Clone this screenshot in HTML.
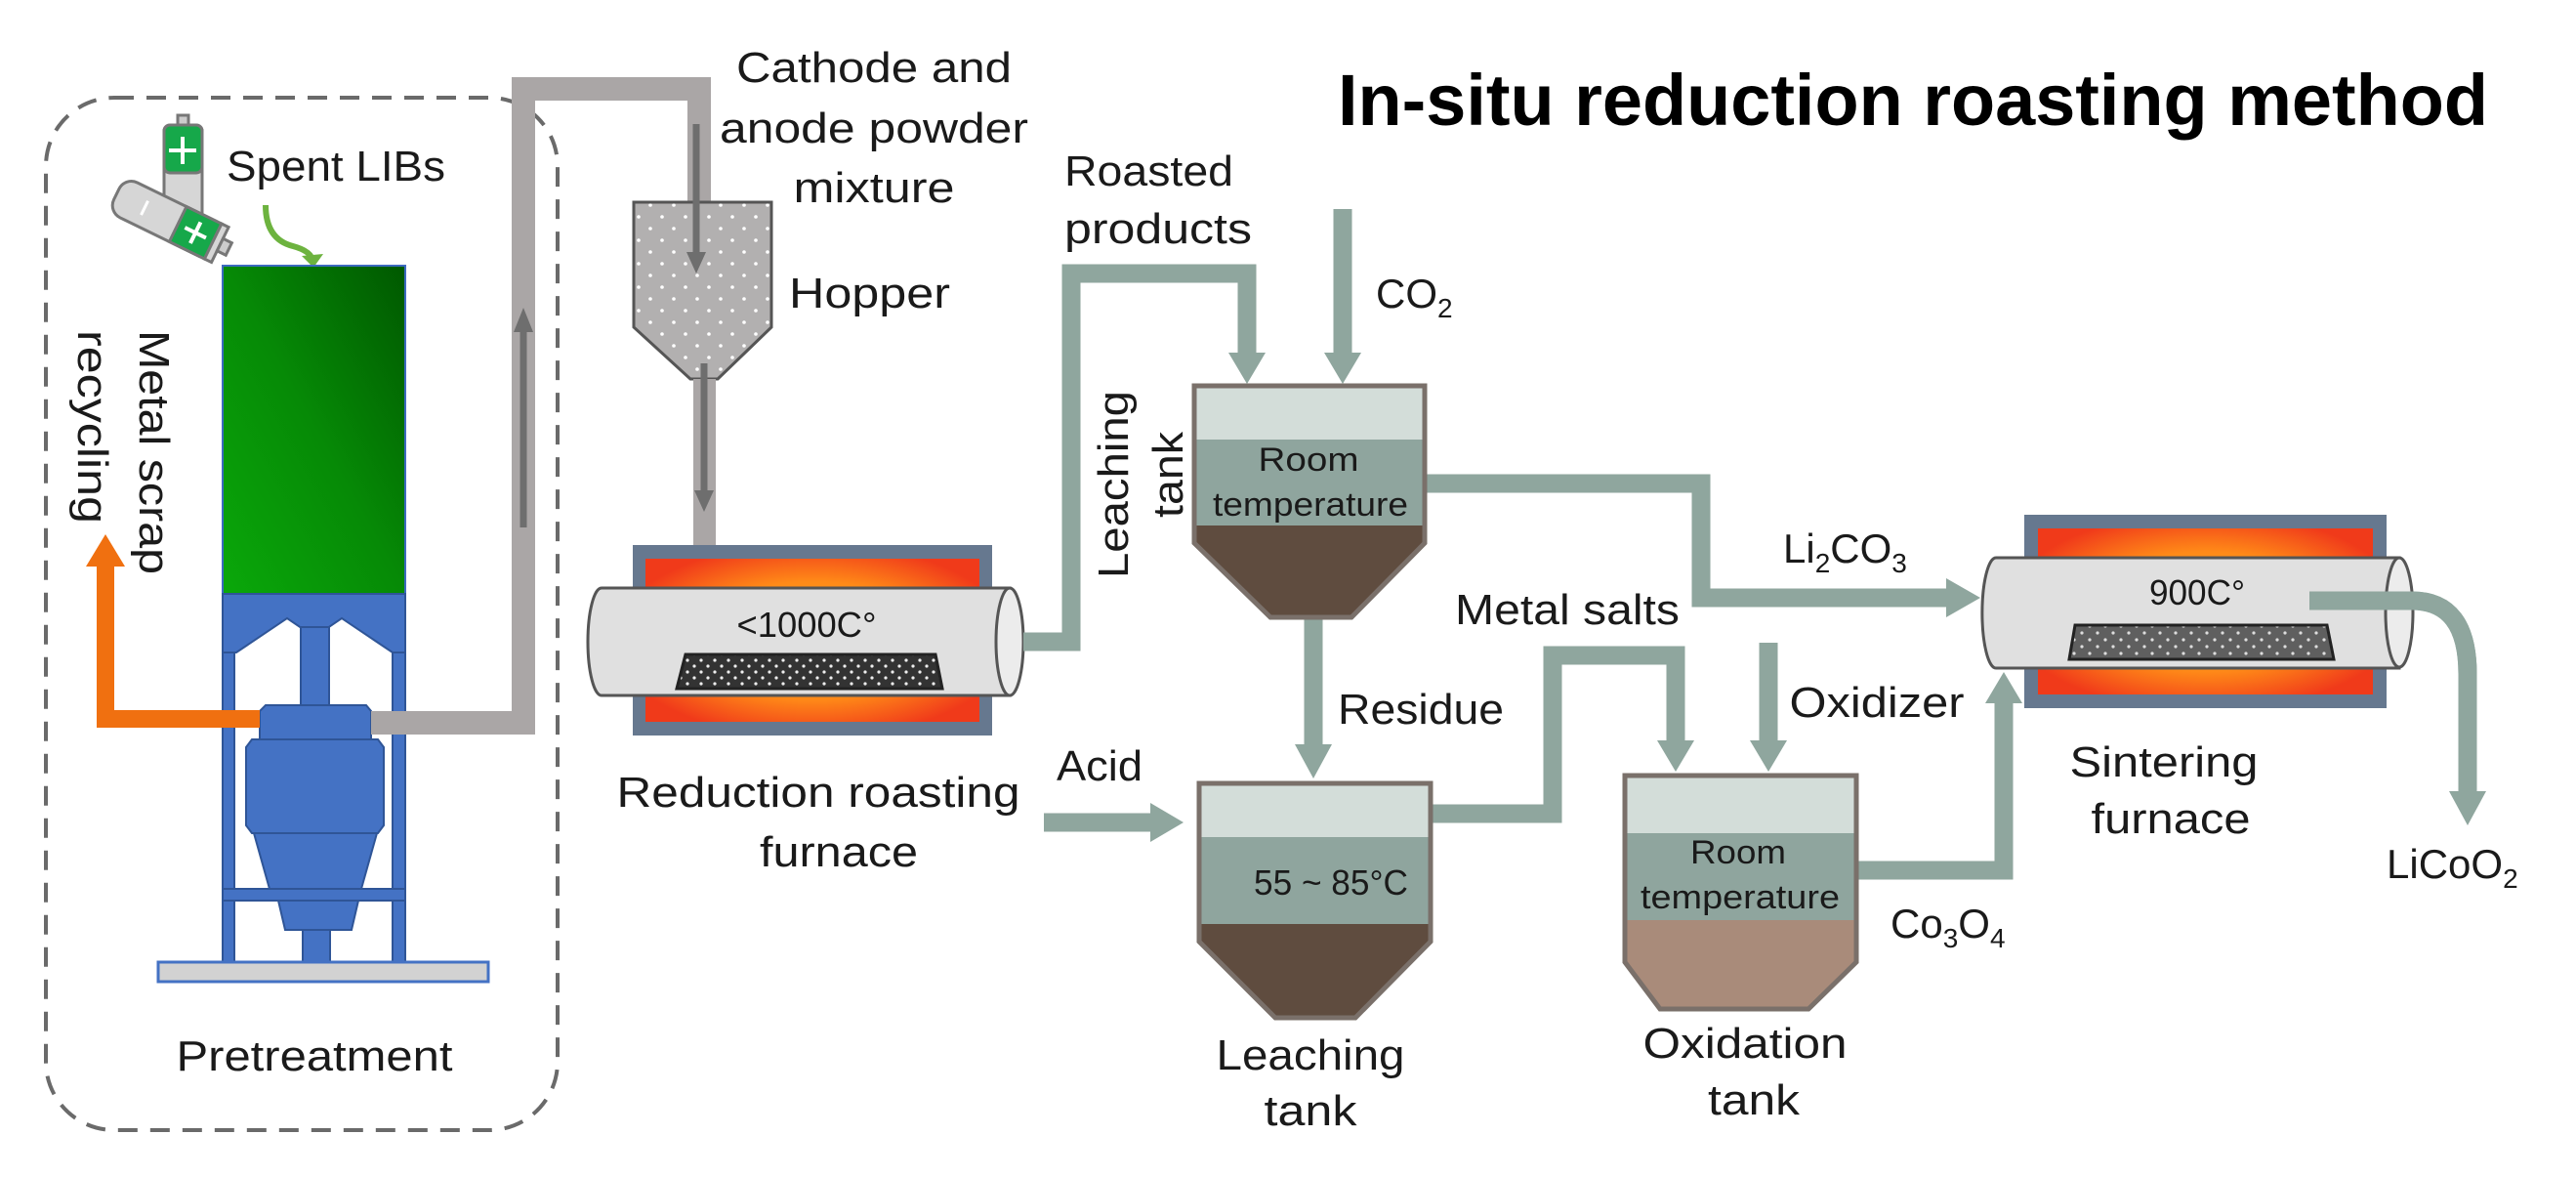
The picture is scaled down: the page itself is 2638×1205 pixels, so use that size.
<!DOCTYPE html>
<html><head><meta charset="utf-8"><style>
html,body{margin:0;padding:0;background:#fff;}
svg{display:block;}
text{font-family:"Liberation Sans",sans-serif;fill:#1a1a1a;}
</style></head><body>
<svg width="2638" height="1205" viewBox="0 0 2638 1205" xmlns="http://www.w3.org/2000/svg">
<defs>
<linearGradient id="grn" x1="0" y1="1" x2="1" y2="0">
<stop offset="0" stop-color="#0aa80a"/><stop offset="0.5" stop-color="#068a06"/><stop offset="1" stop-color="#005800"/>
</linearGradient>
<radialGradient id="fire" cx="0.5" cy="0.5" r="0.6">
<stop offset="0" stop-color="#ffb020"/><stop offset="0.6" stop-color="#ff8a18"/><stop offset="1" stop-color="#f03a1a"/>
</radialGradient>
<pattern id="dotsD" width="14" height="12" patternUnits="userSpaceOnUse">
<rect width="14" height="12" fill="#333"/><circle cx="4" cy="4" r="1.6" fill="#eee"/><circle cx="11" cy="10" r="1.6" fill="#eee"/>
</pattern>
<pattern id="dotsG" width="16" height="14" patternUnits="userSpaceOnUse">
<rect width="16" height="14" fill="#5f5f5f"/><circle cx="4" cy="4" r="1.6" fill="#ddd"/><circle cx="12" cy="11" r="1.6" fill="#ddd"/>
</pattern>
<pattern id="dotsH" width="24" height="24" patternUnits="userSpaceOnUse">
<rect width="24" height="24" fill="#b2b0b0"/><circle cx="6" cy="6" r="1.8" fill="#fff"/><circle cx="18" cy="18" r="1.8" fill="#fff"/>
</pattern>
</defs>

<!-- Title -->
<text x="1370" y="128" font-size="74" font-weight="bold" textLength="1178" lengthAdjust="spacingAndGlyphs" style="fill:#000">In-situ reduction roasting method</text>

<!-- dashed pretreatment box -->
<rect x="47" y="100" width="524" height="1057" rx="70" fill="none" stroke="#6a6a6a" stroke-width="4" stroke-dasharray="20 13"/>

<!-- batteries -->
<g stroke="#777" stroke-width="3">
<rect x="182" y="118" width="11" height="12" fill="#ccc"/>
<rect x="168" y="128" width="39" height="99" rx="6" fill="#d6d6d6"/>
<rect x="168" y="128" width="39" height="49" rx="6" fill="#16a84a"/>
</g>
<path d="M187 140 v28 M173 154 h28" stroke="#fff" stroke-width="4"/>
<g transform="translate(175,226) rotate(26)">
<rect x="-62" y="-20" width="118" height="40" rx="14" fill="#d6d6d6" stroke="#777" stroke-width="3"/>
<rect x="8" y="-20" width="40" height="40" fill="#16a84a" stroke="#777" stroke-width="3"/>
<rect x="48" y="-20" width="8" height="40" fill="#d6d6d6" stroke="#777" stroke-width="3"/>
<rect x="56" y="-7" width="10" height="14" fill="#ccc" stroke="#777" stroke-width="3"/>
<path d="M28 -12 v24 M16 0 h24" stroke="#fff" stroke-width="4"/>
<path d="M-30 -8 v16" stroke="#fff" stroke-width="3"/>
</g>
<text x="232" y="185" font-size="44" textLength="224" lengthAdjust="spacingAndGlyphs">Spent LIBs</text>
<path d="M272 210 Q272 245 300 252 Q318 257 320 266" fill="none" stroke="#6db33f" stroke-width="6"/>
<polygon points="309,262 331,260 321,274" fill="#6db33f"/>

<!-- green block -->
<rect x="228" y="272" width="187" height="336" fill="url(#grn)" stroke="#3d6ac0" stroke-width="2"/>

<!-- blue machine -->
<g fill="#4472c4" stroke="#2f5597" stroke-width="2">
<path d="M228 608 H415 V668 H402 L350 633 L322 652 L294 633 L242 668 H228 Z"/>
<rect x="228" y="668" width="12" height="318"/>
<rect x="402" y="668" width="13" height="318"/>
<rect x="308" y="642" width="29" height="82"/>
<path d="M272 722 H375 L380 728 V757 H266 V728 Z"/>
<path d="M258 757 H387 L393 765 V845 L387 853 H258 L252 845 V765 Z"/>
<path d="M260 853 H386 L370 910 H276 Z"/>
<rect x="228" y="910" width="187" height="12"/>
<path d="M285 922 H367 L360 952 H292 Z"/>
<rect x="310" y="952" width="28" height="34"/>
</g>
<rect x="162" y="985" width="338" height="20" fill="#d2d2d2" stroke="#4472c4" stroke-width="3"/>
<text x="322" y="1096" font-size="44" text-anchor="middle" textLength="283" lengthAdjust="spacingAndGlyphs">Pretreatment</text>

<!-- orange arrow -->
<path d="M266 736 H108 V578" fill="none" stroke="#f07010" stroke-width="18" stroke-linejoin="miter"/>
<polygon points="88,580 128,580 108,547" fill="#f07010"/>
<text transform="translate(158,463) rotate(90)" font-size="44" text-anchor="middle" y="15" textLength="250" lengthAdjust="spacingAndGlyphs">Metal scrap</text>
<text transform="translate(95,437) rotate(90)" font-size="44" text-anchor="middle" y="15" textLength="198" lengthAdjust="spacingAndGlyphs">recycling</text>

<!-- grey pipe -->
<path d="M380 740 H536 V91 H716 V210" fill="none" stroke="#aaa6a6" stroke-width="24" stroke-linejoin="miter"/>
<path d="M536 540 V335" stroke="#6e6e6e" stroke-width="7"/>
<polygon points="526,340 546,340 536,315" fill="#6e6e6e"/>

<!-- hopper -->
<path d="M649 207 H790 V335 L735 388 H707 L649 335 Z" fill="url(#dotsH)" stroke="#555" stroke-width="3"/>
<path d="M713 127 V262" stroke="#6e6e6e" stroke-width="7"/>
<polygon points="703,258 723,258 713,280" fill="#6e6e6e"/>
<rect x="710" y="388" width="23" height="172" fill="#aaa6a6"/>
<path d="M721 372 V505" stroke="#6e6e6e" stroke-width="7"/>
<polygon points="711,502 731,502 721,524" fill="#6e6e6e"/>
<text x="895" y="84" font-size="44" text-anchor="middle" textLength="282" lengthAdjust="spacingAndGlyphs">Cathode and</text>
<text x="895" y="146" font-size="44" text-anchor="middle" textLength="316" lengthAdjust="spacingAndGlyphs">anode powder</text>
<text x="895" y="207" font-size="44" text-anchor="middle" textLength="165" lengthAdjust="spacingAndGlyphs">mixture</text>
<text x="808" y="315" font-size="44" textLength="165" lengthAdjust="spacingAndGlyphs">Hopper</text>

<!-- reduction furnace -->
<rect x="648" y="558" width="368" height="195" fill="#66788f"/>
<rect x="661" y="572" width="342" height="167" fill="url(#fire)"/>
<path d="M616 602 H1034 V712 H616 A14 55 0 0 1 616 602 Z" fill="#e0e0e0" stroke="#555" stroke-width="3"/>
<ellipse cx="1034" cy="657" rx="14" ry="55" fill="#ececec" stroke="#555" stroke-width="3"/>
<path d="M702 670 H958 L965 705 H693 Z" fill="url(#dotsD)" stroke="#222" stroke-width="3"/>
<text x="826" y="652" font-size="36" text-anchor="middle" textLength="143" lengthAdjust="spacingAndGlyphs">&lt;1000C°</text>
<text x="838" y="826" font-size="44" text-anchor="middle" textLength="413" lengthAdjust="spacingAndGlyphs">Reduction roasting</text>
<text x="859" y="887" font-size="44" text-anchor="middle" textLength="162" lengthAdjust="spacingAndGlyphs">furnace</text>

<!-- green-grey pipes -->
<g fill="none" stroke="#8fa69e" stroke-width="19" stroke-linejoin="miter">
<path d="M1048 657 H1097 V280 H1277 V365"/>
<path d="M1375 214 V365"/>
<path d="M1459 495 H1742 V612 H1995"/>
<path d="M1345 632 V765"/>
<path d="M1069 842 H1180"/>
<path d="M1465 833 H1590 V671 H1716 V760"/>
<path d="M1811 658 V760"/>
<path d="M1900 891 H2052 V718"/>
<path d="M2365 615 H2470 Q2527 615 2527 690 V812"/>
</g>
<g fill="#8fa69e">
<polygon points="1258,361 1296,361 1277,393"/>
<polygon points="1356,361 1394,361 1375,393"/>
<polygon points="1326,762 1364,762 1345,797"/>
<polygon points="1178,822 1178,862 1212,842"/>
<polygon points="1697,758 1735,758 1716,790"/>
<polygon points="1792,758 1830,758 1811,790"/>
<polygon points="1993,592 1993,632 2028,612"/>
<polygon points="2033,720 2071,720 2052,688"/>
<polygon points="2508,810 2546,810 2527,845"/>
</g>

<!-- labels near pipes -->
<text x="1090" y="190" font-size="44" textLength="173" lengthAdjust="spacingAndGlyphs">Roasted</text>
<text x="1090" y="249" font-size="44" textLength="192" lengthAdjust="spacingAndGlyphs">products</text>
<text x="1409" y="315" font-size="42">CO<tspan font-size="28" dy="10">2</tspan></text>
<text transform="translate(1140,496) rotate(-90)" font-size="44" text-anchor="middle" y="15" textLength="192" lengthAdjust="spacingAndGlyphs">Leaching</text>
<text transform="translate(1196,486) rotate(-90)" font-size="44" text-anchor="middle" y="15" textLength="88" lengthAdjust="spacingAndGlyphs">tank</text>
<text x="1082" y="799" font-size="44" textLength="88" lengthAdjust="spacingAndGlyphs">Acid</text>
<text x="1370" y="741" font-size="44" textLength="170" lengthAdjust="spacingAndGlyphs">Residue</text>
<text x="1605" y="639" font-size="44" text-anchor="middle" textLength="230" lengthAdjust="spacingAndGlyphs">Metal salts</text>
<text x="1826" y="576" font-size="42">Li<tspan font-size="28" dy="10">2</tspan><tspan dy="-10">CO</tspan><tspan font-size="28" dy="10">3</tspan></text>
<text x="1922" y="734" font-size="44" text-anchor="middle" textLength="179" lengthAdjust="spacingAndGlyphs">Oxidizer</text>
<text x="1936" y="960" font-size="42">Co<tspan font-size="28" dy="10">3</tspan><tspan dy="-10">O</tspan><tspan font-size="28" dy="10">4</tspan></text>

<!-- top leaching tank -->
<rect x="1223" y="395" width="236" height="55" fill="#d3ddd9"/>
<rect x="1223" y="450" width="236" height="88" fill="#8fa59e"/>
<path d="M1223 538 H1459 V556 L1384 632 H1301 L1223 556 Z" fill="#5f4c3f"/>
<path d="M1223 395 H1459 V556 L1384 632 H1301 L1223 556 Z" fill="none" stroke="#7a706a" stroke-width="5"/>
<text x="1340" y="482" font-size="34" text-anchor="middle" textLength="103" lengthAdjust="spacingAndGlyphs">Room</text>
<text x="1342" y="528" font-size="34" text-anchor="middle" textLength="200" lengthAdjust="spacingAndGlyphs">temperature</text>

<!-- bottom leaching tank -->
<rect x="1228" y="802" width="237" height="55" fill="#d3ddd9"/>
<rect x="1228" y="857" width="237" height="89" fill="#8fa59e"/>
<path d="M1228 946 H1465 V964 L1388 1042 H1306 L1228 964 Z" fill="#5f4c3f"/>
<path d="M1228 802 H1465 V964 L1388 1042 H1306 L1228 964 Z" fill="none" stroke="#7a706a" stroke-width="5"/>
<text x="1363" y="916" font-size="36" text-anchor="middle" textLength="158" lengthAdjust="spacingAndGlyphs">55 ~ 85°C</text>
<text x="1342" y="1095" font-size="44" text-anchor="middle" textLength="193" lengthAdjust="spacingAndGlyphs">Leaching</text>
<text x="1342" y="1152" font-size="44" text-anchor="middle" textLength="95" lengthAdjust="spacingAndGlyphs">tank</text>

<!-- oxidation tank -->
<rect x="1664" y="794" width="237" height="59" fill="#d3ddd9"/>
<rect x="1664" y="853" width="237" height="89" fill="#8fa59e"/>
<path d="M1664 942 H1901 V985 L1852 1033 H1700 L1664 985 Z" fill="#a98b7a"/>
<path d="M1664 794 H1901 V985 L1852 1033 H1700 L1664 985 Z" fill="none" stroke="#7a706a" stroke-width="5"/>
<text x="1780" y="884" font-size="34" text-anchor="middle" textLength="98" lengthAdjust="spacingAndGlyphs">Room</text>
<text x="1782" y="930" font-size="34" text-anchor="middle" textLength="204" lengthAdjust="spacingAndGlyphs">temperature</text>
<text x="1787" y="1083" font-size="44" text-anchor="middle" textLength="209" lengthAdjust="spacingAndGlyphs">Oxidation</text>
<text x="1796" y="1141" font-size="44" text-anchor="middle" textLength="94" lengthAdjust="spacingAndGlyphs">tank</text>

<!-- sintering furnace -->
<rect x="2073" y="527" width="371" height="198" fill="#66788f"/>
<rect x="2087" y="541" width="343" height="170" fill="url(#fire)"/>
<path d="M2044 571 H2457 V684 H2044 A14 56 0 0 1 2044 571 Z" fill="#e0e0e0" stroke="#555" stroke-width="3"/>
<ellipse cx="2457" cy="627" rx="14" ry="56" fill="#ececec" stroke="#555" stroke-width="3"/>
<path d="M2125 640 H2383 L2390 675 H2119 Z" fill="url(#dotsG)" stroke="#222" stroke-width="3"/>
<text x="2250" y="619" font-size="36" text-anchor="middle" textLength="98" lengthAdjust="spacingAndGlyphs">900C°</text>
<path d="M2365 615 H2470 Q2527 615 2527 690" fill="none" stroke="#8fa69e" stroke-width="19"/>
<text x="2216" y="795" font-size="44" text-anchor="middle" textLength="193" lengthAdjust="spacingAndGlyphs">Sintering</text>
<text x="2223" y="853" font-size="44" text-anchor="middle" textLength="163" lengthAdjust="spacingAndGlyphs">furnace</text>
<text x="2444" y="899" font-size="42">LiCoO<tspan font-size="28" dy="10">2</tspan></text>
</svg>
</body></html>
